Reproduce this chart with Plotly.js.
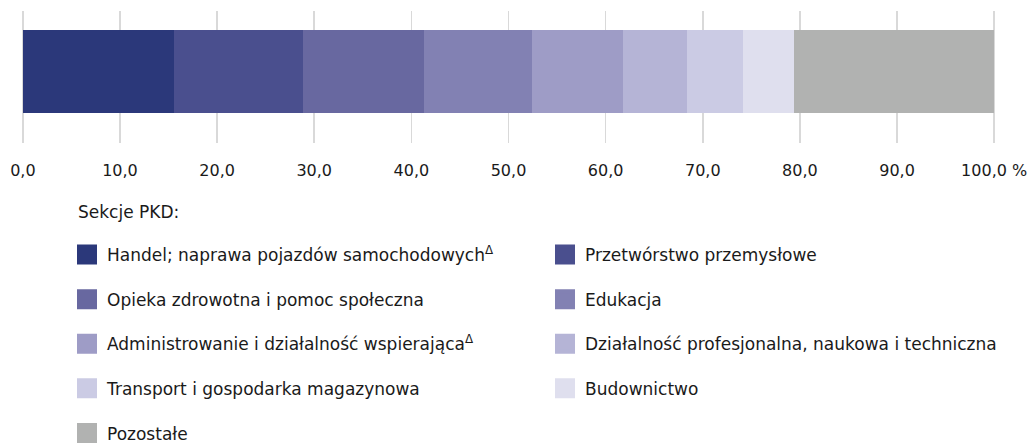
<!DOCTYPE html>
<html>
<head>
<meta charset="utf-8">
<script src="https://cdn.plot.ly/plotly-3.0.1.min.js"></script>
<style>
html, body { margin: 0; padding: 0; background: #ffffff; }
#chart { width: 1029px; height: 443px; }
</style>
</head>
<body>
<div id="chart"></div>
<script>
// ---- data ----
const categories = [
  "Handel; naprawa pojazdów samochodowych<sup>Δ</sup>",
  "Przetwórstwo przemysłowe",
  "Opieka zdrowotna i pomoc społeczna",
  "Edukacja",
  "Administrowanie i działalność wspierająca<sup>Δ</sup>",
  "Działalność profesjonalna, naukowa i techniczna",
  "Transport i gospodarka magazynowa",
  "Budownictwo",
  "Pozostałe"
];
const shares = [15.6, 13.2, 12.5, 11.1, 9.4, 6.6, 5.7, 5.3, 20.6];
const colors = ["#2b387a", "#4a4f8e", "#6868a0", "#8281b3", "#9e9cc6", "#b5b4d6", "#cbcbe4", "#dfdfee", "#b1b2b1"];
const tickValues = [0, 10, 20, 30, 40, 50, 60, 70, 80, 90, 100];
const tickLabels = ["0,0", "10,0", "20,0", "30,0", "40,0", "50,0", "60,0", "70,0", "80,0", "90,0", "100,0 %"];
const legendTitle = "Sekcje PKD:";

// ---- layout constants ----
const W = 1029, H = 443;
const M = { l: 18, r: 30, t: 11, b: 300 };
const plotH = H - M.t - M.b;
const plotW = W - M.l - M.r;
const FONT = "DejaVu Sans, Noto Sans, sans-serif";
const TEXT = "#1a1a1a";

const traces = [];
// stacked bar segments
categories.forEach((name, i) => {
  traces.push({
    type: "bar",
    orientation: "h",
    x: [shares[i]],
    y: [0],
    width: 1,
    name: name,
    marker: { color: colors[i], line: { width: 0 } },
    showlegend: false,
    hoverinfo: "x+name"
  });
});
// legend entries (square swatches)
categories.forEach((name, i) => {
  traces.push({
    type: "scatter",
    mode: "markers",
    x: [null],
    y: [null],
    name: name,
    legendgroup: "g" + i,
    marker: { symbol: "square", size: 16, color: colors[i], line: { width: 4, color: colors[i] } },
    showlegend: true,
    hoverinfo: "skip"
  });
});

const layout = {
  width: W,
  height: H,
  margin: { l: M.l, r: M.r, t: M.t, b: M.b, autoexpand: false },
  paper_bgcolor: "#ffffff",
  plot_bgcolor: "#ffffff",
  barmode: "stack",
  font: { family: FONT, color: TEXT, size: 16 },
  xaxis: {
    range: [-0.5, 100.5],
    tickvals: tickValues,
    ticktext: tickLabels,
    showgrid: true,
    gridcolor: "#d9d9d9",
    gridwidth: 1.5,
    zeroline: false,
    showline: false,
    ticks: "",
    ticklabelstandoff: 16,
    tickfont: { family: FONT, size: 16, color: TEXT },
    fixedrange: true
  },
  yaxis: {
    range: [-0.86, 0.728],
    showgrid: false,
    zeroline: false,
    showline: false,
    showticklabels: false,
    ticks: "",
    fixedrange: true
  },
  showlegend: true,
  legend: {
    orientation: "h",
    xref: "paper",
    x: (67 - M.l) / plotW,
    xanchor: "left",
    yref: "container",
    y: 1 - 237 / H,
    yanchor: "top",
    entrywidth: 433,
    entrywidthmode: "pixels",
    tracegroupgap: 19.5,
    traceorder: "grouped",
    font: { family: FONT, size: 17, color: TEXT },
    bgcolor: "rgba(0,0,0,0)",
    borderwidth: 0,
    itemclick: false,
    itemdoubleclick: false
  },
  annotations: [{
    text: legendTitle,
    xref: "paper",
    yref: "paper",
    x: (76 - M.l) / plotW,
    y: (H - M.b - 212) / plotH,
    xanchor: "left",
    yanchor: "middle",
    showarrow: false,
    font: { family: FONT, size: 17, color: TEXT }
  }]
};

Plotly.newPlot("chart", traces, layout, { displayModeBar: false, staticPlot: true });
</script>
</body>
</html>
